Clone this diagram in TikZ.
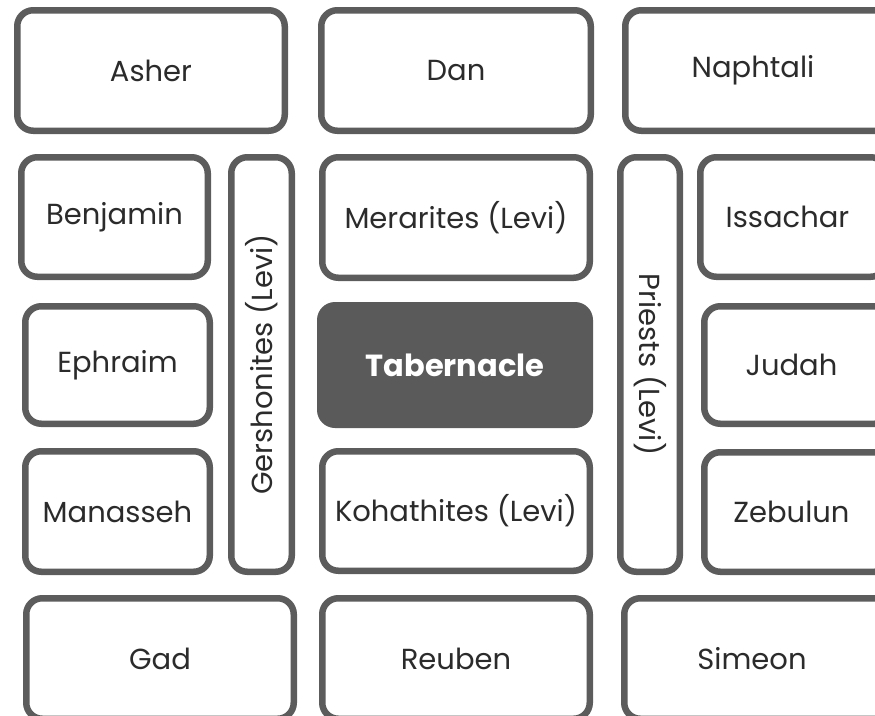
\documentclass[tikz,border=0pt]{standalone}
\usepackage{fontspec}
\setmainfont{Poppins}
\definecolor{edge}{HTML}{5C5C5C}
\definecolor{ink}{HTML}{2B2B2B}
\definecolor{tabfill}{HTML}{5A5A5A}
\tikzset{
  tribe/.style={draw=edge, line width=6.5pt, rounded corners=16pt, fill=white,
    text=ink, font=\fontsize{29}{32}\selectfont, inner sep=0pt},
  labeltext/.style={text=ink, font=\fontsize{29}{32}\selectfont, inner sep=0pt},
  tabbox/.style={fill=tabfill, draw=none, rounded corners=18pt, text=white,
    font=\fontsize{30.5}{33}\selectfont\bfseries, inner sep=0pt}
}
% \tb{name}{x1}{y1}{x2}{y2}{text}{extra}
\newcommand{\tb}[7]{%
  \node[tribe, #7, minimum width={(#4-#2-6.5)*1pt}, minimum height={(#5-#3-6.5)*1pt}]
    (#1) at ({(#2+#4)/2},{(#3+#5)/2}) {#6};}
\begin{document}
\begin{tikzpicture}[x=1pt,y=-1pt]
\useasboundingbox (0,0) rectangle (875,715);
\clip (0,0) rectangle (875,715);
% row 1
\tb{asher}{14}{7}{288}{134}{Asher}{}
\tb{dan}{318}{7}{594}{134}{Dan}{}
\tb{naphtali}{622}{7}{896}{134}{\hspace*{-12pt}Naphtali}{}
% row 2
\tb{benjamin}{18}{154}{211}{280}{Benjamin}{}
\tb{merarites}{319}{154}{593}{281}{Merarites (Levi)}{}
\tb{issachar}{697}{154}{890}{280}{\hspace*{-12pt}Issachar}{}
% side columns
\tb{gershonites}{228}{154}{295}{575}{}{}
\node[labeltext, rotate=90] (gtext) at (gershonites.center) {Gershonites (Levi)};
\tb{priests}{617}{154}{683}{575}{}{}
\node[labeltext, rotate=-90] (ptext) at (priests.center) {Priests (Levi)};
% row 3
\tb{ephraim}{22}{303}{213}{427}{Ephraim}{}
\node[tabbox, minimum width=276pt, minimum height=126pt] (tabernacle) at (455,365) {Tabernacle};
\tb{judah}{701}{303}{894}{427}{\hspace*{-12pt}Judah}{}
% row 4
\tb{manasseh}{22}{448}{213}{575}{Manasseh}{}
\tb{kohathites}{319}{448}{593}{574}{Kohathites (Levi)}{}
\tb{zebulun}{701}{449}{894}{575}{\hspace*{-12pt}Zebulun}{}
% row 5
\tb{gad}{23}{595}{297}{722}{Gad}{}
\tb{reuben}{319}{595}{593}{722}{Reuben}{}
\tb{simeon}{621}{595}{895}{722}{\hspace*{-12pt}Simeon}{}
\end{tikzpicture}
\end{document}
